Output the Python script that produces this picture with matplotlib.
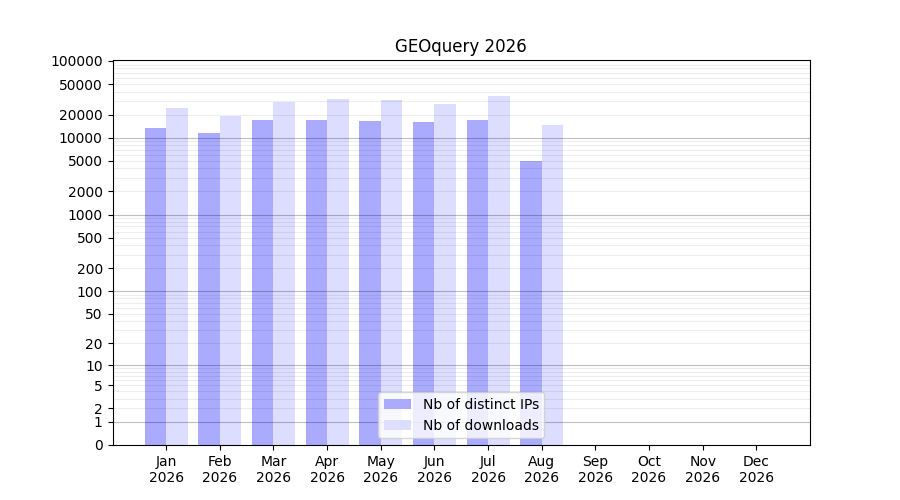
import numpy as np
import matplotlib.pyplot as plt

months = ["Jan", "Feb", "Mar", "Apr", "May", "Jun",
          "Jul", "Aug", "Sep", "Oct", "Nov", "Dec"]
year = 2026
distinct_ips = [13600, 11600, 17200, 17200, 16700, 16200, 17200, 5000]
downloads = [24600, 19400, 29400, 32200, 31300, 27700, 35200, 14800]
ytick_values = [0, 1, 2, 5, 10, 20, 50, 100, 200, 500, 1000, 2000, 5000,
                10000, 20000, 50000, 100000]


def forward(y):
    return np.log10(1 + np.clip(y, -0.999999, None))


def inverse(y):
    return 10 ** y - 1


fig, ax = plt.subplots(figsize=(9, 5), dpi=100)
ax.set_yscale("function", functions=(forward, inverse))

x = np.arange(1, len(distinct_ips) + 1)
ax.bar(x - 0.2, distinct_ips, width=0.4, color="#aaaaff", label="Nb of distinct IPs")
ax.bar(x + 0.2, downloads, width=0.4, color="#ddddff", label="Nb of downloads")

# grid lines drawn over the bars
for k in range(0, 5):
    base = 10 ** k
    ax.axhline(base, color="black", lw=0.8, alpha=0.25, zorder=3)
    for m in range(2, 10):
        ax.axhline(m * base, color="black", lw=0.8, alpha=0.07, zorder=3)

ax.set_ylim(0, 103000)
ax.set_xlim(0, 13)
ax.set_yticks(ytick_values)
ax.set_yticklabels([str(v) for v in ytick_values])
ax.minorticks_off()
ax.set_xticks(np.arange(1, 13))
ax.set_xticklabels([f"{m}\n{year}" for m in months])
ax.set_title(f"GEOquery {year}")
ax.legend(loc="lower center")

plt.savefig("out.png")
